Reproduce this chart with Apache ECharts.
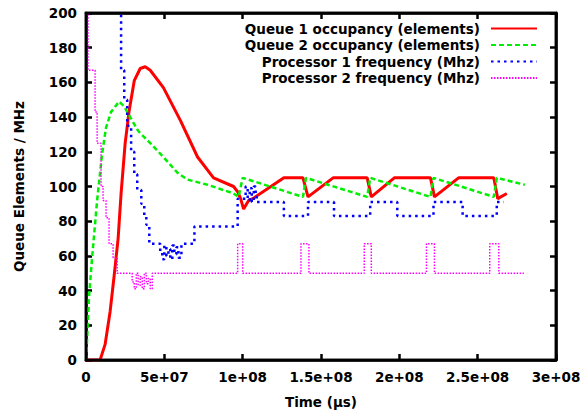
<!DOCTYPE html>
<html lang="en">
  <head>
    <meta charset="UTF-8" />
    <title>Queue occupancy and processor frequency</title>
    <script src="https://cdn.jsdelivr.net/npm/echarts@6/dist/echarts.min.js"></script>
    <style>
      html, body { margin: 0; padding: 0; background: #fff; }
      #chart { width: 580px; height: 414px; overflow: hidden; }
    </style>
  </head>
  <body>
    <div id="chart"></div>
    <script>
      // queue 1 occupancy (elements)
      const queue1Time = [0, 0.9e7, 1.22e7, 1.54e7, 1.79e7, 2.05e7, 2.24e7, 2.5e7, 2.76e7, 3.08e7, 3.46e7, 3.78e7, 4.1e7,
        4.94e7, 6.03e7, 7.12e7, 8.14e7, 9.42e7, 9.68e7, 9.87e7, 1.006e8, 1.038e8, 1.064e8, 1.18e8, 1.263e8,
        1.385e8, 1.417e8, 1.577e8, 1.795e8, 1.821e8, 1.968e8, 2.199e8, 2.224e8, 2.378e8, 2.603e8, 2.628e8, 2.686e8];
      const queue1Value = [0, 0, 9, 28, 48, 70, 96, 125, 144, 161, 168, 169, 167,
        157, 138, 117, 105, 100, 97, 93, 87, 92, 93, 100, 105,
        105, 94, 105, 105, 94, 105, 105, 94, 105, 105, 93, 96];

      // queue 2 occupancy (elements)
      const queue2Time = [0, 0.06e7, 0.19e7, 0.38e7, 0.71e7, 1.03e7, 1.28e7, 1.6e7, 2.12e7, 2.44e7, 2.82e7, 3.33e7,
        4.1e7, 4.94e7, 5.83e7, 6.47e7, 7.76e7, 9.42e7, 9.74e7, 1.0e8, 1.385e8, 1.404e8, 1.795e8, 1.814e8,
        2.199e8, 2.218e8, 2.603e8, 2.622e8, 2.801e8];
      const queue2Value = [0, 10, 36, 58, 92, 119, 134, 143, 149, 146, 140, 132,
        125, 117, 108, 104, 101, 96, 94, 105, 94, 105, 94, 105,
        94, 105, 94, 105, 101];

      // processor 1 frequency (MHz), each value holds until the next time
      const proc1Time = [0, 2.24e7, 2.44e7, 2.63e7, 2.88e7, 3.08e7, 3.27e7, 3.53e7, 3.72e7, 3.85e7, 4.04e7,
        4.74e7, 4.87e7, 5.0e7, 5.13e7, 5.26e7, 5.38e7, 5.51e7, 5.64e7, 5.77e7, 5.9e7, 6.09e7, 6.92e7,
        9.68e7, 1.019e8, 1.032e8, 1.045e8, 1.058e8, 1.071e8, 1.083e8, 1.09e8, 1.263e8, 1.417e8, 1.583e8,
        1.814e8, 1.987e8, 2.218e8, 2.404e8, 2.622e8, 2.667e8];
      const proc1Value = [250, 167, 150, 135, 120, 107, 98, 90, 83, 78, 67,
        62, 58, 66, 60, 64, 58, 66, 61, 65, 59, 67, 77,
        93, 100, 92, 99, 91, 100, 94, 91, 83, 91, 83,
        91, 83, 91, 83, 91, 91];

      // processor 2 frequency (MHz)
      const proc2Time = [0, 0.13e7, 0.58e7, 0.71e7, 0.96e7, 1.09e7, 1.28e7, 1.47e7, 1.73e7, 1.99e7,
        2.95e7, 3.08e7, 3.21e7, 3.33e7, 3.46e7, 3.59e7, 3.72e7, 3.85e7, 3.97e7, 4.1e7, 4.23e7,
        9.68e7, 1.0e8, 1.372e8, 1.423e8, 1.776e8, 1.821e8, 2.173e8, 2.224e8, 2.577e8, 2.635e8, 2.795e8];
      const proc2Value = [250, 167, 143, 125, 100, 92, 82, 67, 59, 50,
        45, 41, 50, 43, 48, 41, 50, 44, 47, 41, 50,
        67, 50, 67, 50, 67, 50, 67, 50, 67, 50, 50];

      const seriesNames = [
        'Queue 1 occupancy (elements)',
        'Queue 2 occupancy (elements)',
        'Processor 1 frequency (Mhz)',
        'Processor 2 frequency (Mhz)'
      ];

      const zip = (xs, ys) => xs.map((x, i) => [x, ys[i]]);
      const font = 'DejaVu Sans';

      function sciLabel(v) {
        if (v === 0) return '0';
        return v.toExponential().replace(/e([+-])(\d)$/, 'e$10$2');
      }

      const axisLine = { show: true, onZero: false, lineStyle: { color: '#000', width: 2.5 } };
      const tick = { show: true, inside: true, length: 6, lineStyle: { color: '#000', width: 2.5 } };
      const labelStyle = { color: '#000', fontFamily: font, fontWeight: 'bold', fontSize: 13.5 };

      // one legend per row so the text lines up on its right edge, gnuplot style
      const legendRows = [16.5, 33, 49.5, 66];
      const legends = seriesNames.map((name, i) => ({
        data: [name],
        top: legendRows[i],
        right: 37,
        align: 'right',
        itemWidth: 46,
        itemHeight: 12,
        selectedMode: false,
        itemStyle: { opacity: 0 },
        textStyle: { color: '#000', fontFamily: font, fontWeight: 'bold', fontSize: 13.5, padding: [0, 6, 0, 0] }
      }));

      // svg renderer: the canvas one kept dropping the top/right frame
      const chart = echarts.init(document.getElementById('chart'), null, { renderer: 'svg' });
      chart.setOption({
        animation: false,
        backgroundColor: '#fff',
        grid: {
          left: 86, right: 24, top: 13, bottom: 54, outerBoundsMode: 'none',
          show: true, borderColor: '#000', borderWidth: 2.5
        },
        legend: legends,
        xAxis: [
          {
            type: 'value', min: 0, max: 3e8, interval: 5e7,
            name: 'Time (μs)', nameLocation: 'middle', nameGap: 35,
            nameTextStyle: labelStyle,
            axisLine: axisLine, axisTick: tick, splitLine: { show: false },
            axisLabel: Object.assign({ margin: 10, formatter: sciLabel, showMaxLabel: true }, labelStyle)
          },
          {
            type: 'value', position: 'top', min: 0, max: 3e8, interval: 5e7,
            axisLine: axisLine, axisTick: tick, splitLine: { show: false }, axisLabel: { show: false }
          }
        ],
        yAxis: [
          {
            type: 'value', min: 0, max: 200, interval: 20,
            name: 'Queue Elements / MHz', nameLocation: 'middle', nameGap: 60, nameRotate: 90,
            nameTextStyle: labelStyle,
            axisLine: axisLine, axisTick: tick, splitLine: { show: false },
            axisLabel: Object.assign({ margin: 9 }, labelStyle)
          },
          {
            type: 'value', position: 'right', min: 0, max: 200, interval: 20,
            axisLine: axisLine, axisTick: tick, splitLine: { show: false }, axisLabel: { show: false }
          }
        ],
        series: [
          {
            name: seriesNames[0], type: 'line', symbol: 'none', clip: true,
            data: zip(queue1Time, queue1Value),
            itemStyle: { color: '#ff0000' },
            lineStyle: { color: '#ff0000', width: 3 }
          },
          {
            name: seriesNames[1], type: 'line', symbol: 'none', clip: true,
            data: zip(queue2Time, queue2Value),
            itemStyle: { color: '#00ee00' },
            lineStyle: { color: '#00ee00', width: 2.5, type: [5, 3] }
          },
          {
            name: seriesNames[2], type: 'line', symbol: 'none', clip: true, step: 'end',
            data: zip(proc1Time, proc1Value),
            itemStyle: { color: '#0000ff' },
            lineStyle: { color: '#0000ff', width: 2.5, type: [2.5, 4] }
          },
          {
            name: seriesNames[3], type: 'line', symbol: 'none', clip: true, step: 'end',
            data: zip(proc2Time, proc2Value),
            itemStyle: { color: '#ff00ff' },
            lineStyle: { color: '#ff00ff', width: 1.5, type: [1.5, 1.5] }
          },
          // empty series so the mirrored top/right axes get drawn
          { type: 'line', xAxisIndex: 1, yAxisIndex: 1, data: [], silent: true }
        ]
      });

      // backup frame taken from the grid's own layout
      const rect = chart.getModel().getComponent('grid').coordinateSystem.getRect();
      chart.setOption({
        graphic: [{
          type: 'rect', silent: true, z: 5,
          shape: { x: rect.x, y: rect.y, width: rect.width, height: rect.height },
          style: { fill: 'none', stroke: '#000', lineWidth: 2.5 }
        }]
      });
    </script>
  </body>
</html>
